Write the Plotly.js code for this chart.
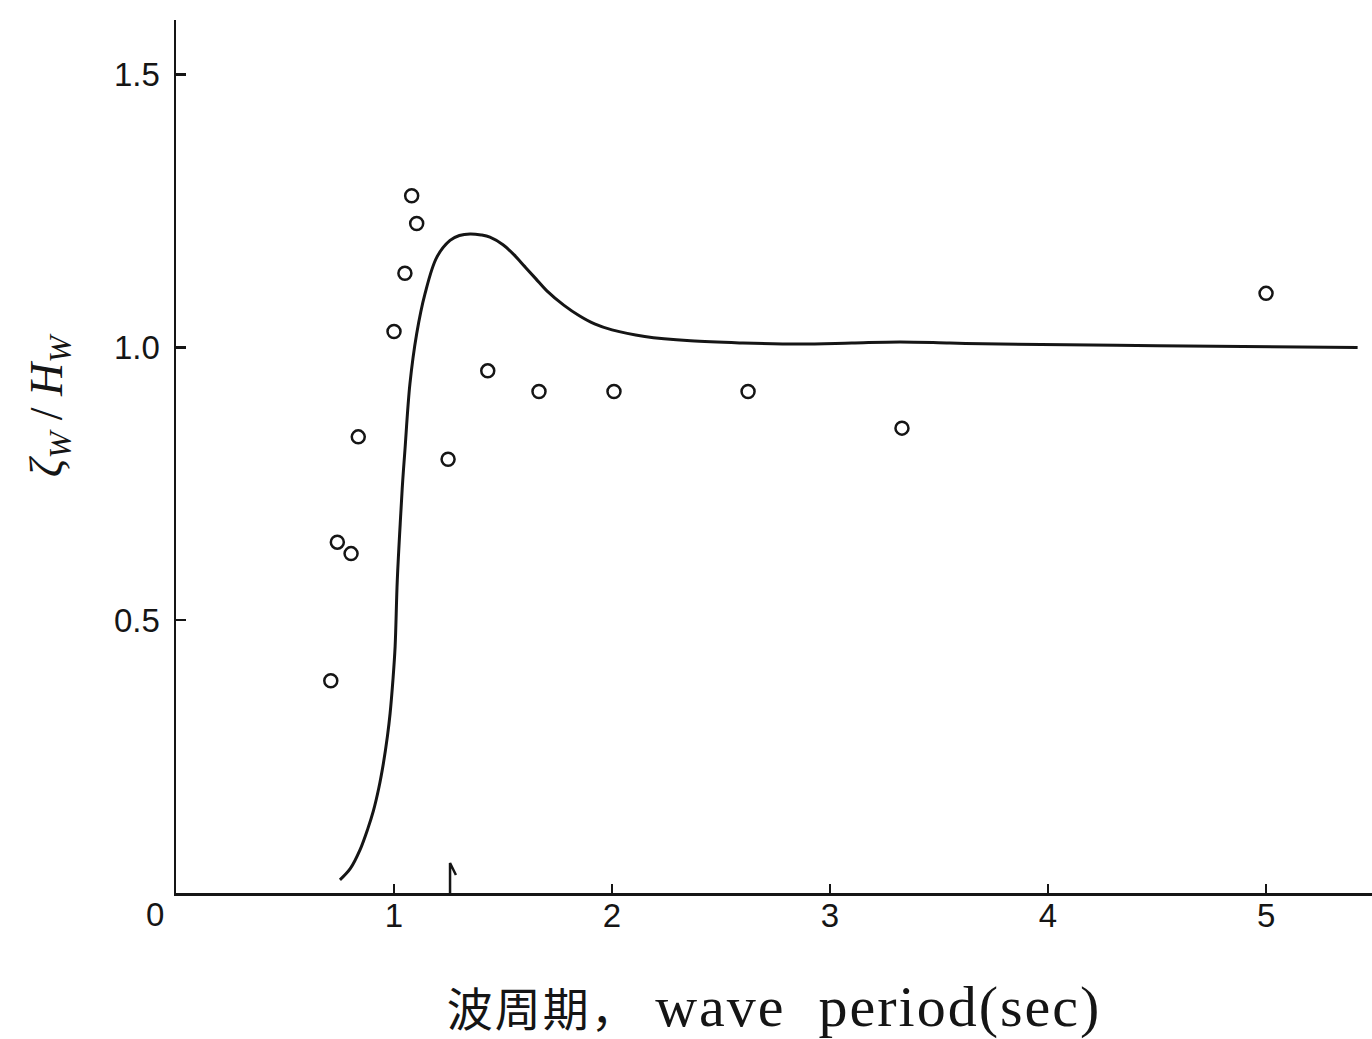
<!DOCTYPE html>
<html>
<head>
<meta charset="utf-8">
<script src="https://cdn.plot.ly/plotly-3.0.1.min.js"></script>
<style>
  html, body { margin: 0; padding: 0; background: #ffffff; }
  #chart { width: 1372px; height: 1039px; }
  .xtitle { letter-spacing: 2px; }
</style>
</head>
<body>
<div id="chart"></div>
<script>
// Wave period (sec) and measured response ratio ζw/Hw
const measuredPeriod = [0.710, 0.740, 0.803, 0.836, 1.000, 1.050, 1.081, 1.104, 1.248, 1.430, 1.665, 2.009, 2.624, 3.330, 5.000];
const measuredRatio  = [0.389, 0.643, 0.622, 0.836, 1.029, 1.136, 1.278, 1.227, 0.795, 0.957, 0.919, 0.919, 0.919, 0.852, 1.099];

// Calculated response curve
const curvePeriod = [0.752, 0.800, 0.844, 0.880, 0.905, 0.930, 0.951, 0.970, 0.982, 0.995, 1.005, 1.015, 1.031, 1.040, 1.050, 1.073, 1.104, 1.142, 1.196, 1.257, 1.300, 1.349, 1.400, 1.440, 1.500, 1.550, 1.600, 1.650, 1.700, 1.780, 1.850, 1.920, 2.000, 2.150, 2.360, 2.600, 2.860, 3.100, 3.320, 3.550, 3.780, 4.500, 5.420];
const curveRatio  = [0.024, 0.045, 0.079, 0.118, 0.150, 0.192, 0.237, 0.288, 0.329, 0.390, 0.451, 0.573, 0.695, 0.756, 0.811, 0.933, 1.025, 1.098, 1.165, 1.196, 1.205, 1.208, 1.206, 1.202, 1.188, 1.170, 1.148, 1.126, 1.104, 1.077, 1.058, 1.043, 1.032, 1.020, 1.012, 1.008, 1.006, 1.008, 1.010, 1.008, 1.006, 1.003, 1.000];

// Small pointer on the period axis
const pointerPeriod = [1.257, 1.257, 1.284];
const pointerRatio  = [0.000, 0.055, 0.033];

// Axis ticks and titles
const xTickVals = [1, 2, 3, 4, 5];
const xTickText = ['1', '2', '3', '4', '5'];
const yTickVals = [0.5, 1.0, 1.5];
const yTickText = ['0.5', '1.0', '1.5'];
const originLabel = '0';
const xTitle = '<span style="font-family:\'Noto Sans CJK JP\';font-size:46px">波周期，</span>\u00a0wave\u00a0\u00a0period(sec)';
const yTitle = '<i>ζ<sub>W</sub></i> / <i>H<sub>W</sub></i>';

const ink = '#151515';
const tickFont = { family: 'Liberation Sans, Arial, sans-serif', size: 33, color: ink };

const traces = [
  {
    x: curvePeriod, y: curveRatio,
    mode: 'lines', type: 'scatter',
    line: { color: ink, width: 3, shape: 'spline', smoothing: 1 },
    hoverinfo: 'skip', showlegend: false
  },
  {
    x: measuredPeriod, y: measuredRatio,
    mode: 'markers', type: 'scatter',
    marker: { symbol: 'circle-open', size: 13, color: ink, line: { color: ink, width: 2.5 } },
    showlegend: false
  },
  {
    x: pointerPeriod, y: pointerRatio,
    mode: 'lines', type: 'scatter',
    line: { color: ink, width: 2.5 },
    hoverinfo: 'skip', showlegend: false
  }
];

const layout = {
  width: 1372, height: 1039,
  margin: { l: 176, r: 0, t: 20, b: 146 },
  paper_bgcolor: '#ffffff', plot_bgcolor: '#ffffff',
  showlegend: false,
  xaxis: {
    range: [0, 5.486],
    tickmode: 'array', tickvals: xTickVals, ticktext: xTickText,
    ticks: 'inside', ticklen: 9, tickwidth: 2.5, tickcolor: ink,
    showline: true, linecolor: ink, linewidth: 2.5,
    showgrid: false, zeroline: false,
    tickfont: tickFont, ticklabelstandoff: -8,
    title: {
      text: xTitle,
      font: { family: 'Liberation Serif, serif', size: 58, color: ink },
      standoff: 56
    }
  },
  yaxis: {
    range: [0, 1.6],
    tickmode: 'array', tickvals: yTickVals, ticktext: yTickText,
    ticks: 'inside', ticklen: 10, tickwidth: 2.5, tickcolor: ink,
    showline: true, linecolor: ink, linewidth: 2.5,
    showgrid: false, zeroline: false,
    tickfont: tickFont, ticklabelstandoff: 7
  },
  annotations: [
    {
      x: 0, y: 0, xref: 'x', yref: 'y',
      text: originLabel, showarrow: false,
      xanchor: 'center', yanchor: 'middle',
      xshift: -21, yshift: -21,
      font: tickFont
    },
    {
      x: 0, y: 0.894, xref: 'paper', yref: 'y',
      text: yTitle, showarrow: false, textangle: -90,
      xanchor: 'center', yanchor: 'middle',
      xshift: -126,
      font: { family: 'Liberation Serif, DejaVu Serif, serif', size: 46, color: ink }
    }
  ]
};

Plotly.newPlot('chart', traces, layout, { displayModeBar: false, staticPlot: true });
</script>
</body>
</html>
